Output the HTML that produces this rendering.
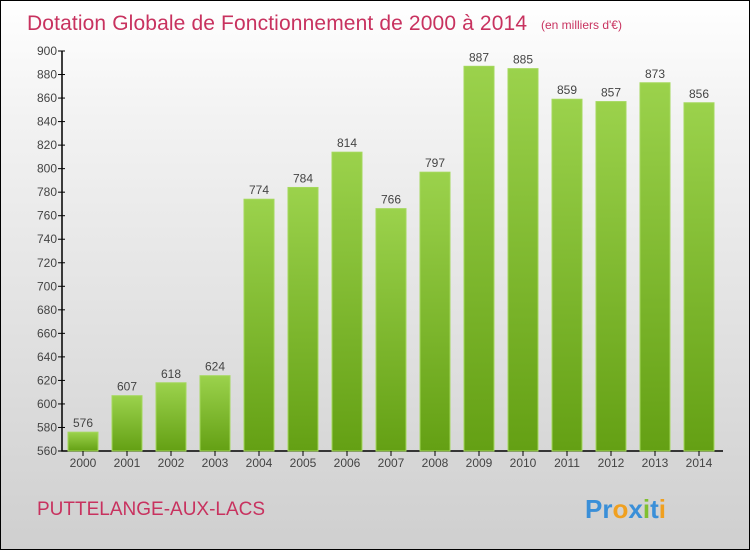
<!DOCTYPE html>
<html><head><meta charset="utf-8"><style>
body{margin:0}
#c{position:relative;width:748px;height:548px;border:1px solid #000;background:linear-gradient(#fff,#f3f3f3 20%,#cfcfcf);font-family:"Liberation Sans",sans-serif;overflow:hidden}
</style></head><body>
<div id="c">
<svg width="748" height="548">
<defs><linearGradient id="g" x1="0" y1="0" x2="0" y2="1"><stop offset="0" stop-color="#9bd24c"/><stop offset="1" stop-color="#64a014"/></linearGradient></defs>
<text x="26" y="29" font-size="21" fill="#c8325f" textLength="500">Dotation Globale de Fonctionnement de 2000 à 2014</text>
<text x="540" y="28" font-size="12" fill="#c8325f">(en milliers d'€)</text>
<g id="plot"></g>
<text x="36" y="514" font-size="19" fill="#c8325f">PUTTELANGE-AUX-LACS</text>
<text x="584" y="517" font-size="26" font-weight="bold"><tspan fill="#3a8fd8">Pr</tspan><tspan fill="#f0a020">o</tspan><tspan fill="#3a8fd8">x</tspan><tspan fill="#80c030">i</tspan><tspan fill="#3a8fd8">t</tspan><tspan fill="#f0a020">i</tspan></text>
</svg></div>
<script>
const years=["2000","2001","2002","2003","2004","2005","2006","2007","2008","2009","2010","2011","2012","2013","2014"];
const values=[576,607,618,624,774,784,814,766,797,887,885,859,857,873,856];
const ticks=[560,580,600,620,640,660,680,700,720,740,760,780,800,820,840,860,880,900];
const NS="http://www.w3.org/2000/svg",g=document.getElementById('plot');
const y=v=>450-(v-560)*400/340, x=i=>82+i*44;
function mk(t,a,txt){const e=document.createElementNS(NS,t);for(const k in a)e.setAttribute(k,a[k]);if(txt!=null)e.textContent=txt;g.appendChild(e);return e;}
let ax=mk('path',{d:'M61 50V450H722',stroke:'#000',fill:'none','stroke-width':1.5});


ticks.forEach(t=>{
 let l=mk('line',{x1:57,x2:64,y1:y(t),y2:y(t),stroke:'#000'});
 
 
 let tx=mk('text',{x:56,y:y(t)+4,'font-size':12,fill:'#444','text-anchor':'end'},t);
 
 
});
values.forEach((v,i)=>{
 let r=mk('rect',{x:x(i)-15,y:y(v),width:30,height:450-y(v),fill:'url(#g)',stroke:'#a4d85c','stroke-width':1});
 
 
 let vl=mk('text',{x:x(i),y:y(v)-5,'font-size':12,fill:'#444','text-anchor':'middle'},v);
 
 
 let tk=mk('line',{x1:x(i),x2:x(i),y1:450,y2:455,stroke:'#000'});
 
 
 let xl=mk('text',{x:x(i),y:466,'font-size':12,fill:'#444','text-anchor':'middle'},years[i]);
 
 
});
</script>
</body></html>
